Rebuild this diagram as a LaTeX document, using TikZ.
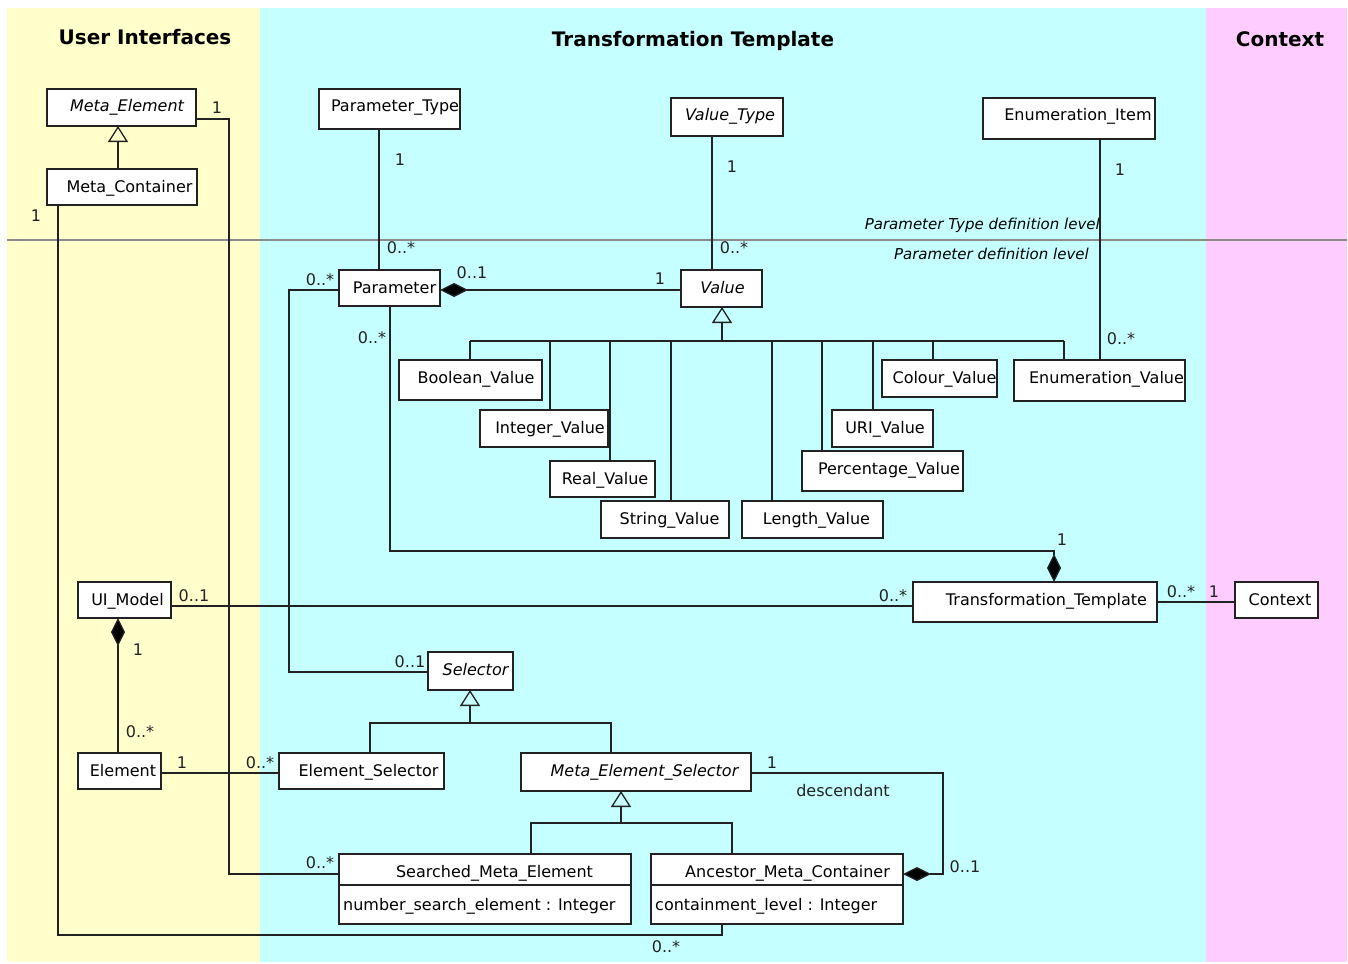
\documentclass[tikz,border=0pt]{standalone}
\usepackage{fontspec}
\setmainfont{DejaVu Sans}
\usetikzlibrary{arrows.meta}
\definecolor{uiyellow}{HTML}{FFFFCC}
\definecolor{ttcyan}{HTML}{C6FFFF}
\definecolor{ctxpink}{HTML}{FFCCFF}
\definecolor{linec}{HTML}{222222}
\definecolor{sepgrey}{HTML}{8C8C8C}
\newcommand{\umlcls}[8]{%
  \pgfmathsetmacro{\clsw}{#4-#2}\pgfmathsetmacro{\clsh}{#5-#3}%
  \node[cls, minimum width=\clsw pt, minimum height=\clsh pt] (#1) at ({(#2+#4)/2},{(#3+#5)/2}) {};
  \node[#7, anchor=base, inner sep=0] (#1-t) at (#6,{#3+23}) {#8};
}
\begin{document}
\begin{tikzpicture}[x=1pt,y=-1pt,
  font=\fontsize{16}{19}\selectfont,
  cls/.style={draw=linec, fill=white, line width=1.3pt, inner sep=0pt, outer sep=0pt},
  conn/.style={draw=linec, line width=1.3pt},
  gen/.style={conn, -{Triangle[open, length=16pt, width=20pt, line width=1.3pt]}},
  comp/.style={conn, -{Diamond[length=28pt, width=14pt, fill=black]}},
  upr/.style={},
  itl/.style={font=\fontsize{16}{19}\selectfont\itshape},
  mult/.style={inner sep=0pt, text=linec},
  lvl/.style={inner sep=0pt, font=\fontsize{15}{18}\selectfont\itshape, anchor=base east},
  ttl/.style={inner sep=0pt, font=\fontsize{20}{24}\selectfont\bfseries, anchor=base}]
\useasboundingbox (0,0) rectangle (1348,963);
\fill[uiyellow] (7,8) rectangle (260,962);
\fill[ttcyan] (260,8) rectangle (1206,962);
\fill[ctxpink] (1206,8) rectangle (1347,962);
\draw[sepgrey, line width=1.5pt] (7,240) -- (1347,240);

\node[ttl] (ttl-ui) at (145,45) {User Interfaces};
\node[ttl] (ttl-tt) at (693,47) {Transformation Template};
\node[ttl] (ttl-ctx) at (1280,47) {Context};

\node[lvl] (lvl-type) at (1100,229.5) {Parameter Type definition level};
\node[lvl] (lvl-par) at (1089,259.5) {Parameter definition level};

% classes
\umlcls{metael}{47}{89}{196}{126}{127}{itl}{Meta\_Element}
\umlcls{metacont}{47}{169}{197}{205}{129.5}{upr}{Meta\_Container}
\umlcls{paramtype}{319}{89}{460}{129}{395}{upr}{Parameter\_Type}
\umlcls{valtype}{671}{98}{783}{136}{730}{itl}{Value\_Type}
\umlcls{enumitem}{983}{98}{1155}{139}{1078}{upr}{Enumeration\_Item}
\umlcls{param}{339}{270}{440}{306}{394.5}{upr}{Parameter}
\umlcls{value}{681}{270}{762}{307}{722.5}{itl}{Value}
\umlcls{boolv}{399}{360}{542}{400}{476}{upr}{Boolean\_Value}
\umlcls{intv}{480}{410}{608}{447}{550}{upr}{Integer\_Value}
\umlcls{realv}{550}{461}{655}{497}{605}{upr}{Real\_Value}
\umlcls{strv}{601}{501}{729}{538}{669.5}{upr}{String\_Value}
\umlcls{lenv}{742}{501}{883}{538}{816.5}{upr}{Length\_Value}
\umlcls{pctv}{802}{451}{963}{491}{889}{upr}{Percentage\_Value}
\umlcls{uriv}{832}{410}{933}{447}{885}{upr}{URI\_Value}
\umlcls{colv}{882}{360}{997}{397}{944.5}{upr}{Colour\_Value}
\umlcls{enumv}{1014}{360}{1185}{401}{1106.5}{upr}{Enumeration\_Value}
\umlcls{uimodel}{78}{582}{171}{618}{127.5}{upr}{UI\_Model}
\umlcls{tt}{913}{582}{1157}{622}{1046.5}{upr}{Transformation\_Template}
\umlcls{ctx}{1235}{582}{1318}{618}{1280}{upr}{Context}
\umlcls{sel}{428}{652}{513}{690}{475.5}{itl}{Selector}
\umlcls{elem}{78}{753}{161}{789}{123}{upr}{Element}
\umlcls{elsel}{279}{753}{444}{789}{368.5}{upr}{Element\_Selector}
\umlcls{mesel}{521}{753}{751}{791}{644.5}{itl}{Meta\_Element\_Selector}
\umlcls{smel}{339}{854}{631}{924}{494.5}{upr}{Searched\_Meta\_Element}
\umlcls{amc}{651}{854}{903}{924}{787.5}{upr}{Ancestor\_Meta\_Container}

\coordinate (ydiv) at (0,885);
\draw[conn] (smel.west |- ydiv) -- (smel.east |- ydiv);
\draw[conn] (amc.west |- ydiv) -- (amc.east |- ydiv);
\node[anchor=base west, inner sep=0pt] (smel-a) at (343,910) {number\_search\_element : Integer};
\node[anchor=base west, inner sep=0pt] (amc-a) at (655,910) {containment\_level : Integer};

% connectors
\coordinate (xme) at (118,0);
\draw[gen] (metacont.north -| xme) -- (metael.south -| xme);
\coordinate (a1) at (229,119); \coordinate (a2) at (229,874);
\draw[conn] (metael.east |- a1) -- (a1) -- (a2) -- (smel.west |- a2);
\coordinate (b1) at (58,935); \coordinate (b2) at (722,935);
\draw[conn] (metacont.south -| b1) -- (b1) -- (b2) -- (amc.south -| b2);
\coordinate (xpt) at (379,0);
\draw[conn] (paramtype.south -| xpt) -- (param.north -| xpt);
\coordinate (xvt) at (712,0);
\draw[conn] (valtype.south -| xvt) -- (value.north -| xvt);
\coordinate (xei) at (1100,0);
\draw[conn] (enumitem.south -| xei) -- (enumv.north -| xei);
\coordinate (ypv) at (0,290);
\draw[comp] (value.west |- ypv) -- (param.east |- ypv);
\coordinate (c1) at (289,290); \coordinate (c2) at (289,672);
\draw[conn] (param.west |- c1) -- (c1) -- (c2) -- (sel.west |- c2);
\coordinate (d1) at (390,551); \coordinate (d2) at (1054,551);
\draw[comp] (param.south -| d1) -- (d1) -- (d2) -- (tt.north -| d2);

\coordinate (vs) at (722,341);
\draw[gen] (vs) -- (value.south -| vs);
\foreach \xx/\nn in {470/boolv, 550/intv, 610/realv, 671/strv, 772/lenv, 822/pctv, 873/uriv, 933/colv, 1064/enumv} {
  \coordinate (vd-\nn) at (\xx,341);
  \draw[conn] (vd-\nn) -- (\nn.north -| vd-\nn);
}
\draw[conn] (vd-boolv) -- (vd-enumv);

\coordinate (yut) at (0,606);
\draw[conn] (uimodel.east |- yut) -- (tt.west |- yut);
\coordinate (ytc) at (0,602);
\draw[conn] (tt.east |- ytc) -- (ctx.west |- ytc);
\coordinate (xue) at (118,0);
\draw[comp] (elem.north -| xue) -- (uimodel.south -| xue);
\coordinate (yee) at (0,773);
\draw[conn] (elem.east |- yee) -- (elsel.west |- yee);

\coordinate (ss) at (470,723);
\draw[gen] (ss) -- (sel.south -| ss);
\coordinate (sb1) at (370,723); \coordinate (sb2) at (611,723);
\draw[conn] (elsel.north -| sb1) -- (sb1) -- (sb2) -- (mesel.north -| sb2);
\coordinate (ms) at (621,823);
\draw[gen] (ms) -- (mesel.south -| ms);
\coordinate (mb1) at (531,823); \coordinate (mb2) at (732,823);
\draw[conn] (smel.north -| mb1) -- (mb1) -- (mb2) -- (amc.north -| mb2);
\coordinate (e1) at (943,773); \coordinate (e2) at (943,874);
\draw[comp] (mesel.east |- e1) -- (e1) -- (e2) -- (amc.east |- e2);

% multiplicities
\node[mult] (m01) at (217,108) {1};
\node[mult] (m02) at (36,216) {1};
\node[mult] (m03) at (400,160) {1};
\node[mult] (m04) at (401,248) {0..*};
\node[mult] (m05) at (732,167) {1};
\node[mult] (m06) at (734,248) {0..*};
\node[mult] (m07) at (1120,170) {1};
\node[mult] (m08) at (1121,339) {0..*};
\node[mult] (m09) at (320,280) {0..*};
\node[mult] (m10) at (472,273) {0..1};
\node[mult] (m11) at (660,279) {1};
\node[mult] (m12) at (372,338) {0..*};
\node[mult] (m13) at (1062,540) {1};
\node[mult] (m14) at (194,596) {0..1};
\node[mult] (m15) at (893,596) {0..*};
\node[mult] (m16) at (1181,592) {0..*};
\node[mult] (m17) at (1214,592) {1};
\node[mult] (m18) at (138,650) {1};
\node[mult] (m19) at (410,662) {0..1};
\node[mult] (m20) at (140,732) {0..*};
\node[mult] (m21) at (182,763) {1};
\node[mult] (m22) at (260,763) {0..*};
\node[mult] (m23) at (772,763) {1};
\node[mult] (m24) at (843,791) {descendant};
\node[mult] (m25) at (965,867) {0..1};
\node[mult] (m26) at (320,863) {0..*};
\node[mult] (m27) at (666,947) {0..*};
\end{tikzpicture}
\end{document}
